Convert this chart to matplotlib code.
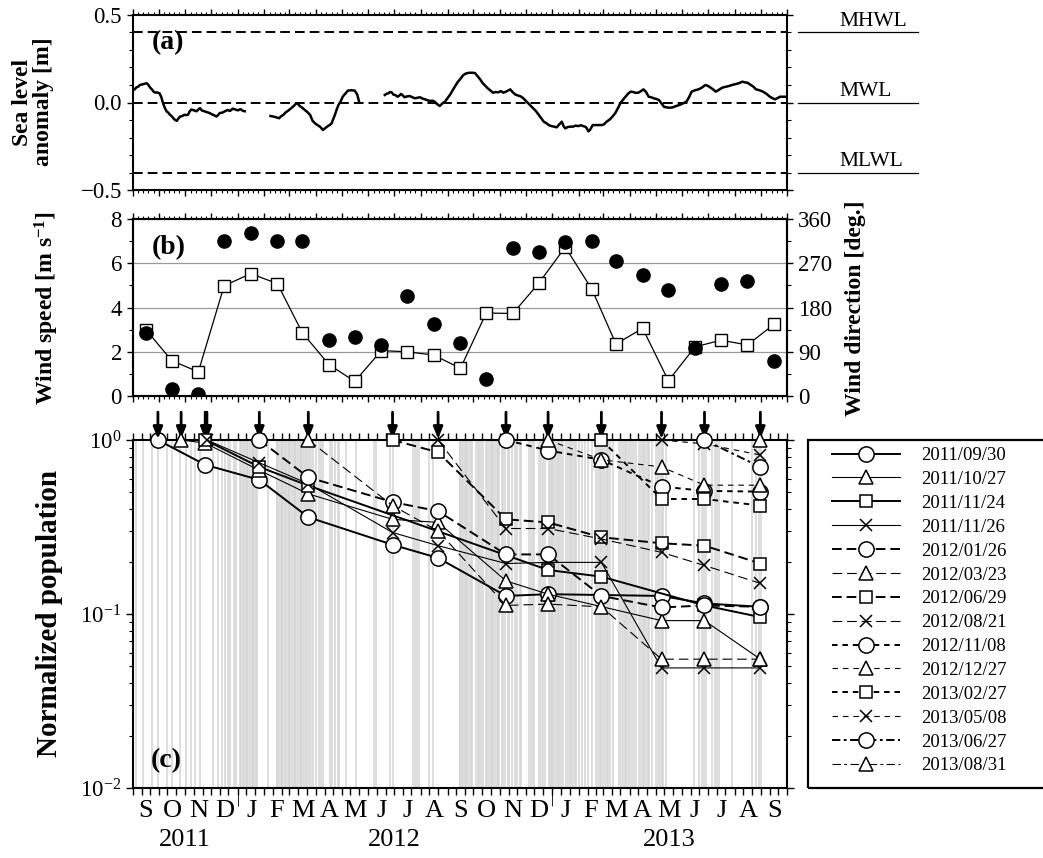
import numpy as np
import pandas as pd
import matplotlib
matplotlib.use("Agg")
import matplotlib.pyplot as plt
import matplotlib.dates as mdates
from matplotlib.ticker import MultipleLocator, LogLocator, LogFormatterSciNotation, NullFormatter, FuncFormatter
from matplotlib.patches import Rectangle

plt.rcParams["font.family"] = ["Liberation Serif", "DejaVu Serif"]
plt.rcParams["mathtext.fontset"] = "custom"
plt.rcParams["mathtext.rm"] = "Liberation Serif"
plt.rcParams["mathtext.bf"] = "Liberation Serif:bold"
plt.rcParams["mathtext.it"] = "Liberation Serif:italic"
plt.rcParams["lines.scale_dashes"] = False
plt.rcParams["axes.linewidth"] = 1.5

t0 = pd.Timestamp("2011-09-01")
t1 = pd.Timestamp("2013-10-01")

# ---- (a) sea level anomaly, days since 2011-09-01 (nan = no record) ----
sl_day = [0, 2, 4, 6, 8, 12, 16, 18, 20, 22, 24, 26, 28, 31, 33, 35, 37, 39, 41, 43, 45, 47, 49, 51,
          53, 55, 57, 60, 62, 64, 66, 68, 71, 74, 76, 78, 80, 83, 86, 89, 92, 94, 97, 99, 101, 104,
          107, 110, 113, 116, 119, 122, 125, 128, 130, 131,
          160, 163, 167, 170, 172, 175, 178, 181, 184, 187, 190, 192, 194, 197, 200, 203, 206, 209,
          212, 215, 218, 221, 224, 227, 229, 231, 233, 235, 237, 239, 242, 244, 247, 250, 254, 258,
          261, 263, 264,
          293, 295, 297, 299, 301, 303, 305, 308, 310, 312, 314, 316, 319, 322, 325, 328, 331, 334,
          337, 340, 343, 346, 349, 351, 354, 357, 360, 363, 366, 369, 372, 375, 378, 381, 384, 387,
          391, 395, 398, 401, 404, 407, 410, 413, 416, 419, 422, 425, 428, 431, 434, 437, 439, 442,
          445, 448, 451, 454, 457, 460, 463, 466, 469, 472, 475, 478, 481, 484, 487, 490, 493, 496,
          499, 501, 503, 506, 509, 512, 515, 518, 521, 524, 527, 530, 532, 535, 540, 545, 548, 551,
          555, 558, 561, 564, 567, 570, 573, 576, 579, 582, 585, 588, 591, 594, 597, 600, 603, 606,
          609, 612, 615, 618, 621, 624, 628, 632, 636, 640, 644, 647, 650, 654, 658, 662, 666, 669,
          672, 675, 678, 681, 684, 687, 690, 694, 697, 701, 705, 709, 712, 715, 719, 722, 725, 729,
          733, 737, 741, 744, 747, 750, 753, 757, 761]
sl_val = [0.070, 0.075, 0.087, 0.090, 0.100, 0.105, 0.110, 0.100, 0.085, 0.075, 0.062, 0.056, 0.058,
          0.052, 0.030, -0.005, -0.030, -0.050, -0.058, -0.070, -0.078, -0.090, -0.100, -0.105,
          -0.090, -0.080, -0.078, -0.070, -0.072, -0.070, -0.050, -0.040, -0.045, -0.050, -0.040,
          -0.032, -0.045, -0.050, -0.055, -0.060, -0.068, -0.072, -0.080, -0.072, -0.060, -0.058,
          -0.050, -0.043, -0.048, -0.035, -0.040, -0.045, -0.038, -0.048, -0.050, np.nan,
          -0.077, -0.080, -0.085, -0.090, -0.080, -0.070, -0.055, -0.045, -0.033, -0.020, -0.005,
          -0.008, -0.020, -0.030, -0.043, -0.055, -0.070, -0.105, -0.120, -0.130, -0.140, -0.157,
          -0.145, -0.134, -0.128, -0.120, -0.095, -0.070, -0.040, -0.015, 0.010, 0.033, 0.050,
          0.068, 0.070, 0.068, 0.045, 0.005, np.nan,
          0.043, 0.050, 0.052, 0.060, 0.058, 0.045, 0.043, 0.033, 0.040, 0.049, 0.040, 0.030, 0.035,
          0.037, 0.030, 0.024, 0.027, 0.030, 0.022, 0.018, 0.012, 0.009, 0.010, 0.005, -0.010,
          -0.020, -0.005, 0.005, 0.025, 0.045, 0.070, 0.095, 0.118, 0.135, 0.155, 0.165, 0.170,
          0.170, 0.168, 0.150, 0.132, 0.110, 0.095, 0.080, 0.068, 0.056, 0.060, 0.058, 0.065, 0.056,
          0.062, 0.070, 0.075, 0.058, 0.045, 0.040, 0.035, 0.025, 0.010, -0.005, -0.020, -0.035,
          -0.050, -0.070, -0.090, -0.110, -0.118, -0.130, -0.135, -0.138, -0.142, -0.125, -0.110,
          -0.135, -0.148, -0.140, -0.138, -0.138, -0.132, -0.135, -0.130, -0.135, -0.140, -0.165,
          -0.155, -0.129, -0.129, -0.129, -0.125, -0.110, -0.096, -0.080, -0.062, -0.035, -0.005,
          0.015, 0.033, 0.050, 0.062, 0.060, 0.055, 0.056, 0.065, 0.075, 0.060, 0.033, 0.030, 0.024,
          0.020, 0.014, -0.005, -0.025, -0.028, -0.030, -0.028, -0.020, -0.014, -0.005, 0.005, 0.030,
          0.062, 0.070, 0.075, 0.085, 0.100, 0.095, 0.085, 0.075, 0.062, 0.070, 0.080, 0.087, 0.090,
          0.095, 0.100, 0.105, 0.110, 0.119, 0.115, 0.113, 0.100, 0.090, 0.075, 0.070, 0.062, 0.050,
          0.033, 0.025, 0.018, 0.025, 0.033, 0.033, 0.033]
tide_levels = [0.4, 0.0, -0.4]
tide_names = ["MHWL", "MWL", "MLWL"]

# ---- (b) monthly wind ----
wind_months = pd.date_range("2011-09-01", "2013-09-01", freq="MS")
wind_speed = [3.0, 1.6, 1.09, 4.98, 5.53, 5.08, 2.86, 1.42, 0.66, 2.05, 2.0, 1.85, 1.25,
              3.75, 3.73, 5.09, 6.73, 4.82, 2.35, 3.06, 0.69, 2.22, 2.52, 2.31, 3.24]
wind_dir = [129, 14, 5, 316, 332, 315, 315, 114, 120, 103, 204, 147, 107,
            34, 301, 292, 313, 316, 274, 246, 215, 98, 228, 233, 71]

# ---- (c) normalized population of each cohort at the survey dates ----
survey_dates = ["2011/09/30", "2011/10/27", "2011/11/24", "2011/11/26", "2012/01/26",
                "2012/03/23", "2012/06/29", "2012/08/21", "2012/11/08", "2012/12/27",
                "2013/02/27", "2013/05/08", "2013/06/27", "2013/08/31"]
n = np.nan
population = [
    [1.0, n, 0.72, n, 0.59, 0.36, 0.25, 0.21, 0.127, 0.13, n, 0.127, 0.115, 0.11],
    [n, 1.0, 0.96, n, 0.67, 0.49, 0.35, 0.336, 0.155, 0.13, n, 0.0916, 0.0916, 0.055],
    [n, n, 1.0, n, 0.70, 0.547, n, n, n, 0.179, 0.164, n, 0.112, 0.096],
    [n, n, n, 1.0, 0.74, 0.56, 0.294, 0.247, 0.195, 0.198, 0.198, 0.049, 0.049, 0.049],
    [n, n, n, n, 1.0, 0.61, 0.44, 0.39, 0.22, 0.22, 0.127, 0.109, 0.112, 0.11],
    [n, n, n, n, n, 1.0, 0.42, 0.30, 0.112, 0.114, 0.11, 0.055, 0.055, 0.055],
    [n, n, n, n, n, n, 1.0, 0.85, 0.35, 0.336, 0.276, 0.255, 0.247, 0.195],
    [n, n, n, n, n, n, n, 1.0, 0.31, 0.31, 0.27, 0.226, 0.19, 0.15],
    [n, n, n, n, n, n, n, n, 1.0, 0.87, 0.77, 0.54, 0.51, 0.505],
    [n, n, n, n, n, n, n, n, n, 1.0, 0.77, 0.70, 0.55, 0.55],
    [n, n, n, n, n, n, n, n, n, n, 1.0, 0.458, 0.458, 0.42],
    [n, n, n, n, n, n, n, n, n, n, n, 1.0, 0.95, 0.82],
    [n, n, n, n, n, n, n, n, n, n, n, n, 1.0, 0.70],
    [n, n, n, n, n, n, n, n, n, n, n, n, n, 1.0],
]
# days (since 2011-09-01) shaded as grey lines in panel (c)
grey_days = [3, 12, 22, 29, 39, 45, 55, 62, 68, 72, 78, 93, 99, 104, 107, 110, 113, 117, 120, 124,
             126, 128, 129, 131, 133, 134, 136, 138, 140, 141, 143, 144, 157, 167, 168, 170, 172,
             173, 175, 177, 178, 180, 182, 183, 185, 187, 189, 190, 192, 194, 196, 197, 199, 201,
             203, 205, 207, 209, 213, 216, 219, 221, 229, 232, 235, 238, 240, 248, 260, 280, 283,
             299, 302, 326, 328, 330, 333, 345, 349, 380, 381, 383, 384, 386, 388, 389, 391, 393,
             395, 399, 401, 403, 405, 407, 411, 412, 414, 416, 418, 419, 421, 423, 425, 426, 429,
             431, 433, 436, 438, 441, 444, 447, 450, 452, 461, 463, 465, 467, 473, 475, 477, 479,
             484, 485, 487, 488, 490, 492, 494, 496, 498, 500, 504, 506, 508, 510, 512, 514, 516,
             519, 522, 526, 530, 534, 539, 541, 543, 545, 547, 549, 551, 553, 555, 558, 566, 568,
             570, 572, 574, 576, 578, 581, 583, 585, 589, 591, 593, 595, 597, 599, 601, 604, 609,
             611, 613, 615, 617, 620, 653, 659, 662, 665, 667, 674, 677, 680, 682, 697, 720, 725,
             728, 731]

month_letters = list("SONDJFMAMJJASONDJFMAMJJAS")
year_labels = ["2011", "2012", "2013"]
year_centers = ["2011-10-31", "2012-07-01", "2013-05-17"]


def day_to_date(d):
    return t0 + pd.to_timedelta(np.asarray(d, dtype=float), unit="D")


W, H = 1043, 858
fig = plt.figure(figsize=(W / 100, H / 100), dpi=100)


def box(x0, y0, x1, y1):
    return [x0 / W, 1 - y1 / H, (x1 - x0) / W, (y1 - y0) / H]


ax_a = fig.add_axes(box(133, 15, 787, 190))
ax_b = fig.add_axes(box(133, 219, 787, 396))
ax_c = fig.add_axes(box(133, 440, 787, 788))

tick_fs = 16.5
for ax in (ax_a, ax_b, ax_c):
    ax.set_xlim(t0, t1)
    ax.tick_params(labelbottom=False, direction="out", width=1.0)
    ax.tick_params(axis="y", labelsize=tick_fs, left=True, right=True, which="both")

for ax in (ax_a, ax_b):
    ax.xaxis.set_major_locator(mdates.MonthLocator())
    ax.xaxis.set_minor_locator(mdates.DayLocator(bymonthday=[7, 13, 19, 25]))
    ax.tick_params(axis="x", which="major", top=True, bottom=True, length=4.5)
    ax.tick_params(axis="x", which="minor", top=True, bottom=True, length=2.5, width=0.8)
    ax.tick_params(axis="y", which="major", length=4.5)
    ax.tick_params(axis="y", which="minor", length=3, width=0.8)

# ---- panel (a) ----
ax_a.plot(day_to_date(sl_day), sl_val, color="k", lw=1.8)
for lev, name in zip(tide_levels, tide_names):
    ax_a.axhline(lev, color="k", lw=1.4, ls=(0, (7, 3.6)))
    ax_a.plot([1.017, 1.200], [lev, lev], color="k", lw=0.9,
              transform=ax_a.get_yaxis_transform(), clip_on=False)
    ax_a.annotate(name, xy=(1.08, lev), xycoords=ax_a.get_yaxis_transform(),
                  xytext=(0, 5), textcoords="offset points", ha="left", va="baseline",
                  fontsize=15.5, annotation_clip=False)
ax_a.set_ylim(-0.5, 0.5)
ax_a.yaxis.set_major_locator(MultipleLocator(0.5))
ax_a.yaxis.set_minor_locator(MultipleLocator(0.1))
ax_a.yaxis.set_major_formatter(FuncFormatter(lambda v, p: f"{v:.1f}".replace("-", "\u2212")))
ax_a.text(0.029, 0.84, "(a)", transform=ax_a.transAxes, fontsize=20, fontweight="bold",
          ha="left", va="center")
fig.text(33 / W, 1 - 102 / H, "Sea level\nanomaly [m]", rotation=90, ha="center", va="center",
         fontsize=17, fontweight="bold", linespacing=1.0)

# ---- panel (b) ----
for lev in [2, 4, 6]:
    ax_b.axhline(lev, color="0.6", lw=0.9, zorder=0)
ax_b.plot(wind_months + pd.Timedelta(days=15), wind_speed, color="k", lw=0.9, marker="s",
          ms=8.5, mfc="white", mec="k", mew=1.0, zorder=3)
ax_b.set_ylim(0, 8)
ax_b.yaxis.set_major_locator(MultipleLocator(2))
ax_b.yaxis.set_minor_locator(MultipleLocator(1))
ax_b.tick_params(axis="y", right=False, which="both")
ax_b2 = ax_b.twinx()
ax_b2.plot(wind_months + pd.Timedelta(days=15), wind_dir, ls="none", marker="o", ms=9.5,
           color="k", zorder=4)
ax_b2.set_ylim(0, 360)
ax_b2.yaxis.set_major_locator(MultipleLocator(90))
ax_b2.yaxis.set_minor_locator(MultipleLocator(45))
ax_b2.tick_params(axis="y", labelsize=tick_fs, direction="out", which="major", length=4.5, width=1.0)
ax_b2.tick_params(axis="y", direction="out", which="minor", length=3, width=0.8)
ax_b.text(0.029, 0.836, "(b)", transform=ax_b.transAxes, fontsize=20, fontweight="bold",
          ha="left", va="center")
fig.text(47 / W, 1 - 308 / H, r"Wind speed [m s$^{\mathbf{-1}}$]", rotation=90, ha="center",
         va="center", fontsize=17, fontweight="bold")
fig.text(855 / W, 1 - 308 / H, "Wind direction [deg.]", rotation=90, ha="center",
         va="center", fontsize=17, fontweight="bold")

# ---- panel (c) ----
ax_c.vlines(day_to_date(grey_days), 0, 1, transform=ax_c.get_xaxis_transform(),
            color="0.83", lw=1.1, zorder=0)
ax_c.set_yscale("log")
ax_c.set_ylim(1e-2, 1.0)
ax_c.yaxis.set_major_locator(LogLocator(base=10))
ax_c.yaxis.set_major_formatter(LogFormatterSciNotation())
ax_c.yaxis.set_minor_locator(LogLocator(base=10, subs=np.arange(2, 10)))
ax_c.yaxis.set_minor_formatter(NullFormatter())
ax_c.tick_params(axis="y", which="major", length=5)
ax_c.tick_params(axis="y", which="minor", length=3, width=0.8)
ax_c.xaxis.set_major_locator(mdates.DayLocator(bymonthday=[1, 11, 21]))
ax_c.xaxis.set_minor_locator(mdates.YearLocator())
ax_c.xaxis.remove_overlapping_locs = False
ax_c.tick_params(axis="x", which="major", top=True, bottom=True, length=5)
ax_c.tick_params(axis="x", which="minor", top=False, bottom=True, length=13)

survey_t = pd.to_datetime(survey_dates, format="%Y/%m/%d")
markers = ["o", "^", "s", "x"]
msizes = {"o": 11, "^": 10, "s": 8.5, "x": 8}
dash_groups = [(0, ()), (0, (7, 3.5)), (0, (4, 3.5)), (0, (6, 2.5, 2, 2.5))]
handles = []
for i, vals in enumerate(population):
    vals = np.asarray(vals)
    ok = ~np.isnan(vals)
    mk = markers[i % 4]
    lw = 1.4 if i % 2 == 0 else 0.8
    ls = dash_groups[i // 4] if i < 12 else dash_groups[3]
    if i < 4:
        ls = "solid"
    ln, = ax_c.plot(survey_t[ok], vals[ok], color="k", lw=lw, ls=ls, marker=mk,
                    ms=msizes[mk], mfc="white", mec="k", mew=1.1, zorder=3 + i * 0.01,
                    clip_on=False)
    handles.append(ln)

# arrows marking the survey dates
for d in survey_t:
    x = mdates.date2num(d)
    ax_c.annotate("", xy=(x, 1.003), xycoords=("data", "axes fraction"),
                  xytext=(x, 1.08), textcoords=("data", "axes fraction"),
                  arrowprops=dict(arrowstyle="-|>,head_length=0.5,head_width=0.2",
                                  color="k", lw=2.0, mutation_scale=14, shrinkA=0, shrinkB=0),
                  annotation_clip=False)

ax_c.text(0.027, 0.08, "(c)", transform=ax_c.transAxes, fontsize=20, fontweight="bold",
          ha="left", va="center")
fig.text(50 / W, 1 - 613 / H, "Normalized population", rotation=90, ha="center",
         va="center", fontsize=21, fontweight="bold")

month_starts = pd.date_range(t0, periods=len(month_letters), freq="MS")
for m, letter in zip(month_starts, month_letters):
    mid = m + (m + pd.offsets.MonthBegin(1) - m) / 2
    ax_c.text(mdates.date2num(mid), -0.035, letter, transform=ax_c.get_xaxis_transform(),
              ha="center", va="top", fontsize=19)
for yl, yc in zip(year_labels, year_centers):
    ax_c.text(mdates.date2num(pd.Timestamp(yc)), -0.118, yl, transform=ax_c.get_xaxis_transform(),
              ha="center", va="top", fontsize=19)

# legend box runs off the right edge of the figure
fig.add_artist(Rectangle((808 / W, 1 - 788 / H), 300 / W, 348 / H, transform=fig.transFigure,
                         fill=False, ec="k", lw=1.6))
fig.legend(handles, survey_dates, loc="upper left", bbox_to_anchor=(832 / W, 1 - 447 / H),
           frameon=False, borderpad=0, borderaxespad=0, handlelength=3.6, handletextpad=1.15,
           labelspacing=0.36, fontsize=13.5, numpoints=1)

fig.savefig("out.png", dpi=100)
